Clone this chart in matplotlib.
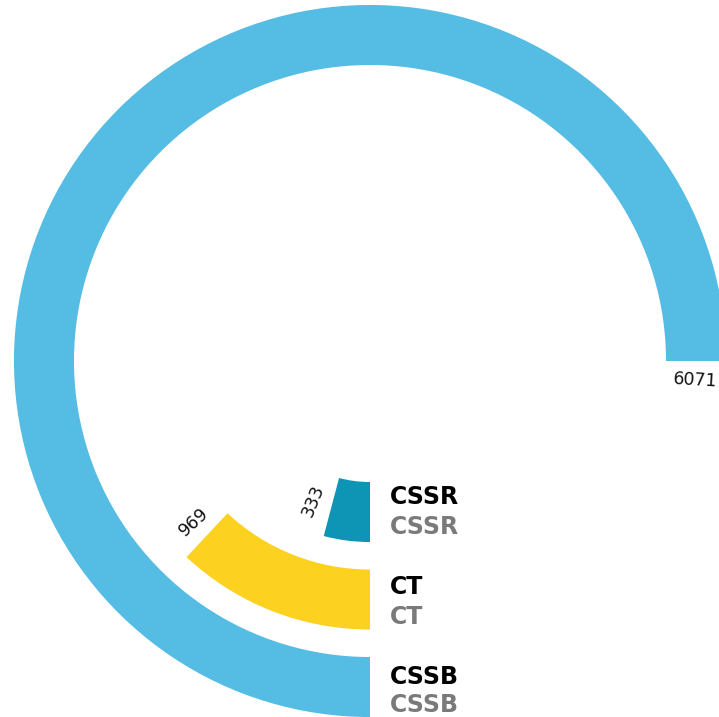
import numpy as np
import matplotlib.pyplot as plt

categories = ['CSSR', 'CT', 'CSSB']
values = [333, 969, 6071]
colors = ['#0E94B4', '#FCD11F', '#55BCE3']

W, H = 719, 717
fig = plt.figure(figsize=(W / 100, H / 100), dpi=100)

# polar axes placed so the ring centre sits where the original has it
cx, cy = 370, H - 361
px_per_r = 87.5
rmax = 4.2
R = rmax * px_per_r
ax = fig.add_axes([(cx - R) / W, (cy - R) / H, 2 * R / W, 2 * R / H], projection='polar')
ax.set_theta_zero_location('S')
ax.set_theta_direction(-1)
ax.set_ylim(0, rmax)
ax.set_axis_off()

pos = np.arange(len(categories)) + 1.726
theta = np.array(values) / max(values) * 1.5 * np.pi
ax.barh(pos, theta, left=0, height=0.686, color=colors)

# value labels just past the end of each arc, along the radius
for r, t, v in zip(pos, theta, values):
    tt = t + 19 / (r * px_per_r)
    rot = (-90 - np.degrees(tt)) % 180
    if rot > 90:
        rot -= 180
    ax.text(tt, r, str(v), rotation=rot, rotation_mode='anchor',
            ha='center', va='center', fontsize=12.5, color='#111111')

# category labels next to the start of each bar
for i, (r, c) in enumerate(zip(pos, categories)):
    shift = [0, 2.5, 4][i]
    gap = [15, 15, 14][i]
    ax.annotate(c, xy=(0, r), xytext=(20, gap - shift), textcoords='offset pixels',
                ha='left', va='center', fontsize=17, fontweight='bold', color='black')
    ax.annotate(c, xy=(0, r), xytext=(20, -gap - shift), textcoords='offset pixels',
                ha='left', va='center', fontsize=17, fontweight='bold', color='#7a7a7a')

fig.savefig('out.png', dpi=100)
